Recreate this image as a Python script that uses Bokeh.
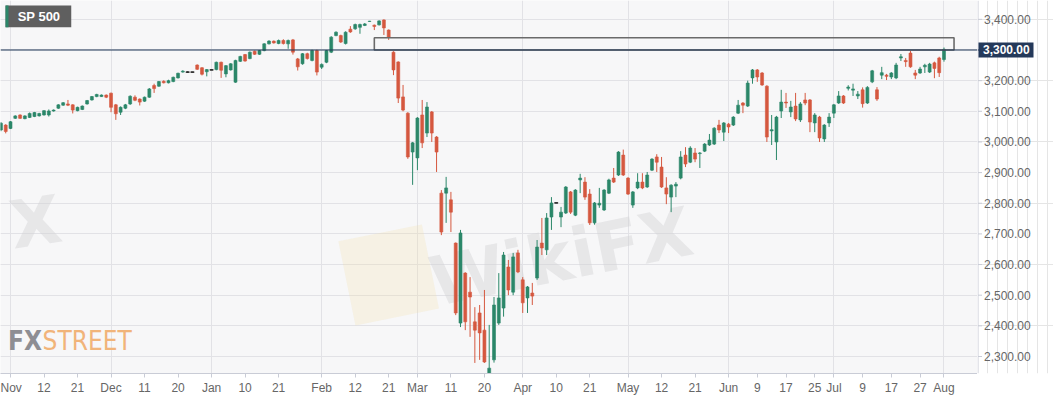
import numpy as np
from bokeh.plotting import figure
from bokeh.layouts import row
from bokeh.models import FixedTicker, Grid, Span, ColumnDataSource, Range1d
from bokeh.core.properties import value
from bokeh.embed import file_html
from bokeh.resources import INLINE

# ---- data: daily sessions, index 0 = 1 Nov 2019 (weekdays, 25 Dec absent) ----
first_idx = -2
opens = [3039, 3055, 3044, 3077, 3088, 3076, 3080, 3083, 3085, 3088, 3088, 3101, 3110, 3120, 3124, 3121, 3102, 3106, 3124, 3137,
         3148, 3148, 3153, 3159, 3121, 3097, 3110, 3124, 3146, 3140, 3133, 3146, 3184, 3182, 3198, 3193, 3197, 3209, 3228, 3228,
         3228, 3251, 3242, 3229, 3235, 3236, 3260, 3222, 3235, 3195, 3263, 3285, 3272, 3296, 3286, 3298, 3320, 3329, 3321, 3331,
         3320, 3333, 3271, 3255, 3288, 3266, 3298, 3244, 3260, 3293, 3347, 3347, 3321, 3368, 3369, 3374, 3380, 3393, 3381, 3382,
         3398, 3365, 3293, 3261, 3147, 3094, 2967, 2948, 3088, 3029, 3098, 3016, 2833, 2833, 2811, 2670, 2409, 2572, 2510, 2413,
         2442, 2386, 2215, 2289, 2409, 2458, 2592, 2510, 2638, 2550, 2491, 2507, 2556, 2670, 2648, 2755, 2801, 2755, 2768, 2837,
         2761, 2876, 2869, 2830, 2736, 2794, 2778, 2833, 2882, 2892, 2957, 2882, 2794, 2850, 2869, 2853, 2908, 2951, 2918, 2850,
         2820, 2856, 2882, 2957, 2934, 2964, 2962, 2970, 2990, 2993, 3055, 3032, 3058, 3055, 3094, 3127, 3117, 3209, 3235, 3225,
         3182, 3036, 3000, 3101, 3130, 3098, 3117, 3072, 3137, 3137, 3062, 3081, 3010, 3062, 3094, 3127, 3150, 3175, 3169, 3150,
         3170, 3127, 3196, 3170, 3218, 3218, 3212, 3209, 3274, 3266, 3290, 3225, 3225, 3245, 3228, 3258, 3274, 3269]
highs = [3065, 3058, 3068, 3087, 3090, 3087, 3096, 3098, 3095, 3104, 3106, 3106, 3123, 3130, 3137, 3123, 3115, 3119, 3137, 3150,
         3157, 3155, 3155, 3161, 3124, 3116, 3124, 3152, 3152, 3142, 3148, 3176, 3190, 3199, 3201, 3203, 3213, 3226, 3234, 3230,
         3228.5, 3253, 3244, 3238, 3235.5, 3262, 3262, 3251, 3257, 3268, 3281, 3287, 3295, 3298, 3300, 3322, 3332, 3331, 3334, 3335,
         3334, 3336, 3274, 3290, 3291, 3301, 3301, 3256, 3300, 3345, 3361, 3350, 3361, 3378, 3386, 3386, 3388, 3395, 3383, 3397,
         3400, 3367, 3296, 3263, 3186, 3097, 3000, 3081, 3137, 3130, 3101, 3019, 2843, 2886, 2837, 2672, 2713, 2575, 2559, 2461,
         2468, 2517, 2403, 2494, 2572, 2641, 2615, 2638, 2648, 2559, 2530, 2540, 2680, 2752, 2768, 2820, 2801.5, 2788, 2856, 2840,
         2846, 2896, 2885, 2846, 2804, 2850, 2846, 2880, 2915, 2970, 2975, 2885, 2840, 2898, 2898, 2902, 2947, 2960, 2951, 2885,
         2862, 2869, 2970, 2983, 2986, 2980, 2967, 2996, 3026, 3048, 3072, 3065, 3062, 3084, 3137, 3130, 3200, 3238, 3238, 3228,
         3185, 3088, 3085, 3170, 3160, 3134, 3160, 3130, 3160, 3140, 3094, 3085, 3058, 3094, 3124, 3166, 3153, 3185, 3190, 3166,
         3178, 3182, 3235, 3179, 3245, 3222, 3228, 3258, 3287, 3274, 3297, 3235, 3245, 3255, 3258, 3262, 3278, 3308]
lows = [3035, 3028, 3042, 3075, 3075, 3074, 3078, 3081, 3083, 3086, 3083, 3099, 3108, 3118, 3117, 3093, 3100, 3104, 3122, 3135,
        3146, 3147, 3143, 3097, 3072, 3088, 3107, 3121, 3133, 3119, 3131, 3144, 3160, 3180, 3191, 3191, 3195, 3207, 3226, 3226,
        3227.5, 3235, 3217, 3214, 3234.5, 3234, 3209, 3211, 3233, 3193, 3261, 3262, 3270, 3284, 3284, 3296, 3318, 3321, 3319, 3318,
        3304, 3285, 3233, 3252, 3269, 3263, 3217, 3238, 3257, 3290, 3345, 3323, 3318, 3356, 3366, 3353, 3378, 3392, 3365, 3380,
        3349, 3333, 3218, 3127, 3100, 2945, 2860, 2908, 2980, 3016, 3000, 2902, 2696, 2736, 2706, 2435, 2396, 2386, 2364, 2279,
        2289, 2279, 2190, 2280, 2403, 2430, 2500, 2500, 2572, 2442, 2442, 2468, 2550, 2631, 2631, 2713, 2800.5, 2722, 2765, 2765,
        2758, 2833, 2811, 2729, 2730, 2785, 2775, 2830, 2866, 2889, 2889, 2827, 2785, 2846, 2846, 2850, 2905, 2902, 2850, 2797,
        2771, 2820, 2878, 2918, 2931, 2934, 2915, 2967, 2987, 2990, 3029, 3003, 3029, 3052, 3091, 3094, 3114, 3190, 3196, 3183,
        3000, 2990, 2941, 3078, 3111, 3081, 3068, 3065, 3120, 3032, 3032, 3000, 3000, 3049, 3078, 3124, 3124, 3168, 3150, 3140,
        3112, 3124, 3192, 3134, 3205, 3202, 3205, 3205, 3264, 3245, 3242, 3205, 3222, 3225, 3225, 3208, 3212, 3262]
closes = [3061, 3034, 3066, 3085, 3077, 3085, 3093, 3096, 3093, 3102, 3101, 3104, 3121, 3128, 3120, 3104, 3113, 3117, 3135, 3148,
          3155, 3153, 3146, 3113, 3092, 3113, 3121, 3149, 3136, 3130, 3146, 3173, 3174, 3197, 3193, 3200, 3211, 3224, 3231, 3228,
          3228, 3237, 3221, 3236, 3235, 3260, 3234, 3249, 3255, 3266, 3279, 3264, 3293, 3286, 3298, 3320, 3329, 3323, 3331, 3321,
          3331, 3293, 3245, 3288, 3272, 3298, 3228, 3253, 3298, 3342, 3358, 3326, 3358, 3359, 3383, 3383, 3385, 3394, 3377, 3395,
          3372, 3342, 3235, 3143, 3104, 2951, 2997, 3078, 2997, 3114, 3029, 2967, 2706, 2850, 2771, 2442, 2703, 2413, 2494, 2386,
          2377, 2282, 2262, 2468, 2491, 2631, 2517, 2625, 2576, 2475, 2527, 2497, 2657, 2654, 2752, 2801, 2801, 2771, 2853, 2771,
          2843, 2882, 2820, 2736, 2801, 2800, 2843, 2876, 2869, 2967, 2892, 2830, 2837, 2869, 2850, 2892, 2944, 2934, 2853, 2830,
          2859, 2862, 2951, 2928, 2980, 2944, 2964, 2993, 3006, 3045, 3039, 3062, 3049, 3081, 3120, 3120, 3192, 3235, 3212, 3186,
          3016, 3040, 3081, 3130, 3127, 3114, 3075, 3124, 3127, 3065, 3088, 3013, 3055, 3081, 3121, 3150, 3127, 3179, 3173, 3156,
          3125, 3178, 3232, 3140, 3226, 3214, 3225, 3251, 3278, 3262, 3245, 3218, 3238, 3250, 3254, 3240, 3226, 3302]

tick_idx = [0, 7, 14, 21, 28, 35, 42, 49, 56, 65, 72, 79, 85, 92, 99, 107, 114, 121, 129, 136, 143,
            150, 156, 162, 168, 172, 178, 184, 190, 195]
tick_labels = ["Nov", "12", "21", "Dec", "11", "20", "Jan", "10", "21", "Feb", "12", "21", "Mar", "11", "20",
               "Apr", "10", "21", "May", "12", "21", "Jun", "9", "17", "25", "Jul", "9", "17", "27", "Aug"]
month_idx = [0, 21, 42, 65, 85, 107, 129, 150, 172, 195]
price_ticks = [2300, 2400, 2500, 2600, 2700, 2800, 2900, 3000, 3100, 3200, 3300, 3400]
level = 3300
zone_low, zone_high = 3300, 3340
zone_start, zone_end = 76, 197.1
instrument = "SP 500"

GREEN = "#2b8769"
RED = "#d5583f"
NAVY = "#24395a"
AXIS_C = "#c9ccd6"
LABEL_C = "#666666"
FONT = "Liberation Sans"

o = np.array(opens, float); h = np.array(highs, float)
l = np.array(lows, float); c = np.array(closes, float)
idx = np.arange(first_idx, first_idx + len(o))
col = np.where(c > o, GREEN, np.where(c < o, RED, "#222222"))
src = ColumnDataSource(dict(x=idx, o=o, h=h, l=l, c=c, top=np.maximum(o, c), bot=np.minimum(o, c), col=col))
flat = c == o
fsrc = ColumnDataSource(dict(x=idx[flat], y=c[flat]))

XR = (-2.09, 202.0)
yr = Range1d(2244.5, 3461.5)
W, H = 1053, 399
FRAME_R, FRAME_B = 977, 373
SIDE_W = W - FRAME_R

p = figure(width=FRAME_R, height=H, x_range=XR, y_range=yr, y_axis_location=None,
           output_backend="svg", toolbar_location=None, min_border_left=0, min_border_top=0,
           min_border_right=0, min_border_bottom=H - FRAME_B)
p.background_fill_color = "#f7f7f8"
p.border_fill_color = "white"
p.outline_line_color = None

# watermarks
wm = dict(text_font=value("DejaVu Sans"), text_font_style="bold", text_color="#d2d2d5", text_alpha=0.45)
p.rect(x=[79.0], y=[2566], width=[17.8], height=[280], angle=0.2, fill_color="#f2dfa6", fill_alpha=0.25, line_color=None)
p.text(x=[115.0], y=[2625], text=["WikiFX"], angle=0.2, text_font_size="68px", text_align="center",
       text_baseline="middle", **wm)
p.text(x=[0.0], y=[2724], text=["X"], angle=0.15, text_font_size="66px", text_align="left",
       text_baseline="middle", **wm)

# candles
p.segment(x0="x", x1="x", y0="l", y1="h", line_color="col", line_width=1, source=src)
p.vbar(x="x", width=0.62, top="top", bottom="bot", fill_color="col", line_color="col", line_width=0.6, source=src)
p.rect(x="x", y="y", width=0.8, height=1.2, height_units="screen", fill_color="#222222", line_color=None, source=fsrc)

# zone box and level line
p.quad(left=[zone_start], right=[zone_end], bottom=[zone_low], top=[zone_high], fill_color=None,
       line_color="#6a6a6a", line_width=1.6)
p.add_layout(Span(location=level, dimension="width", line_color="#1d3454", line_width=1.2))

# grids
p.xgrid.visible = False
p.add_layout(Grid(dimension=0, ticker=FixedTicker(ticks=month_idx), grid_line_color="#e2e2e6", grid_line_width=1))
p.add_layout(Grid(dimension=1, ticker=FixedTicker(ticks=price_ticks), grid_line_color="#e2e2e6", grid_line_width=1))

# bottom axis
xa = p.xaxis[0]
xa.ticker = FixedTicker(ticks=tick_idx)
xa.major_label_overrides = {i: t for i, t in zip(tick_idx, tick_labels)}
xa.minor_tick_line_color = None
xa.major_tick_in = 0
xa.major_tick_out = 4
xa.axis_line_color = AXIS_C
xa.major_tick_line_color = AXIS_C
xa.major_label_text_color = LABEL_C
xa.major_label_text_font = FONT
xa.major_label_text_font_size = "12px"
xa.major_label_standoff = 3

# instrument label box (top-left)
p.quad(left=[-1.04], right=[12.69], bottom=[3374.4], top=[3445.2], fill_color="#5f5f5f", line_color=None)
p.quad(left=[-1.04], right=[-0.42], bottom=[3374.4], top=[3445.2], fill_color=GREEN, line_color=None)
p.text(x=[1.5], y=[3410], text=[instrument], text_baseline="middle", text_color="white",
       text_font=value(FONT), text_font_style="bold", text_font_size="13px")

# FXSTREET logo
logo_font = value("DejaVu Sans Condensed")
p.text(x=[6.6], y=[2350], text=["FX"], text_align="right", text_baseline="middle", text_color="#8e8e93",
       text_font=logo_font, text_font_style="bold", text_font_size="26px")
p.text(x=[6.7], y=[2350], text=["STREET"], text_align="left", text_baseline="middle", text_color="#f1b47a",
       text_font=logo_font, text_font_size="26px")

# ---- right-hand price scale (shares the price range of the chart) ----
s = figure(width=SIDE_W, height=H, x_range=(0, SIDE_W), y_range=yr, x_axis_location=None, y_axis_location=None,
           output_backend="svg", toolbar_location=None, min_border_left=0, min_border_top=0,
           min_border_right=0, min_border_bottom=H - FRAME_B)
s.background_fill_color = "white"
s.border_fill_color = "white"
s.outline_line_color = None
s.segment(x0=[0.5], x1=[0.5], y0=[yr.start], y1=[yr.end], line_color=AXIS_C, line_width=1)
others = [t for t in price_ticks if t != level]
s.segment(x0=[0.5] * len(others), x1=[4.5] * len(others), y0=others, y1=others, line_color=AXIS_C, line_width=1)
s.text(x=[6.5] * len(others), y=others, text=[f"{t:,.2f}" for t in others], text_baseline="middle",
       text_color=LABEL_C, text_font=value(FONT), text_font_size="12px")
# highlighted current level
s.segment(x0=[0], x1=[3], y0=[level], y1=[level], line_color="#1d3454", line_width=1.2)
s.rect(x=[28.5], y=[level], width=[55], height=[15], height_units="screen", fill_color=NAVY, line_color=None)
s.text(x=[5.5], y=[level], text=[f"{level:,.2f}"], text_baseline="middle", text_color="white",
       text_font=value(FONT), text_font_style="bold", text_font_size="12px")

layout = row(p, s, spacing=0)
open("out.html", "w").write(file_html(layout, INLINE))
